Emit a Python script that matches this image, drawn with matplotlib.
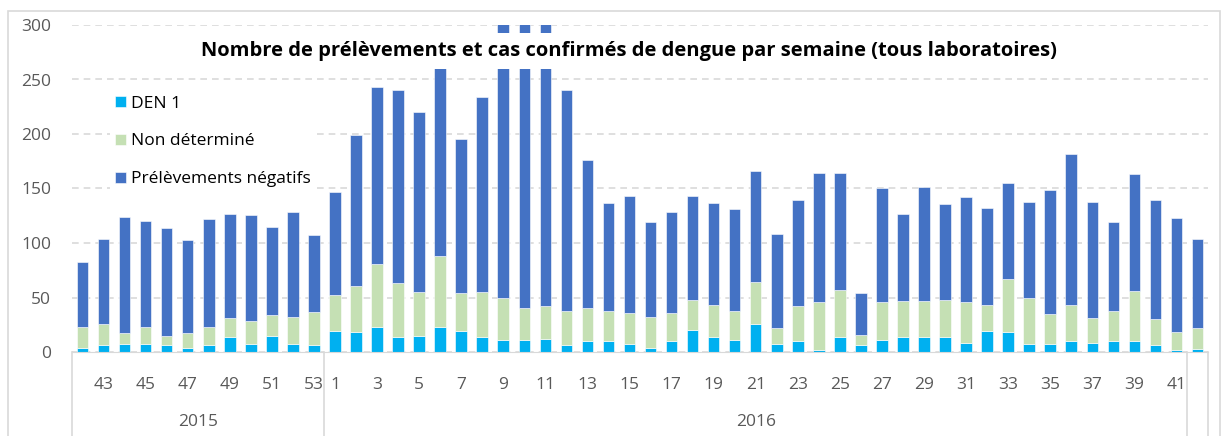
import matplotlib
matplotlib.use("Agg")
import matplotlib.pyplot as plt
import matplotlib.transforms as mtransforms
from matplotlib.patches import Rectangle
import numpy as np

plt.rcParams['font.family'] = ['Open Sans', 'DejaVu Sans']

# weeks and years (2015 w42-53, 2016 w1-42)
weeks = list(range(42, 54)) + list(range(1, 43))
years = ["2015", "2016"]
year_sizes = [12, 41]  # last bar (w42 2016) sits in its own unlabeled group

den1 = [4, 6, 7, 7, 6, 4, 6, 14, 7, 15, 7, 6,
        19, 18, 23, 14, 15, 23, 19, 14, 11, 11, 12, 6, 10, 10, 7, 4, 10, 20,
        14, 11, 26, 7, 10, 2, 14, 6, 11, 14, 14, 14, 8, 19, 18, 7, 7, 10, 8,
        10, 10, 6, 2, 3]
non_det = [19, 20, 10, 16, 9, 13, 17, 17, 21, 19, 25, 31,
           33, 43, 58, 49, 40, 65, 35, 41, 39, 29, 30, 32, 30, 28, 29, 28, 26, 28,
           29, 27, 38, 15, 32, 44, 43, 10, 35, 33, 33, 34, 38, 24, 49, 43, 28, 33,
           23, 28, 46, 24, 16, 19]
negatifs = [60, 78, 107, 97, 99, 86, 99, 96, 98, 81, 96, 70,
            95, 138, 162, 177, 165, 187, 141, 179, 270, 300, 273, 202, 136, 99, 107,
            87, 92, 95, 94, 93, 102, 86, 97, 118, 107, 38, 104, 80, 104, 88, 96, 89,
            88, 88, 114, 139, 107, 81, 107, 109, 105, 82]

labels = ["DEN 1", "Non déterminé", "Prélèvements négatifs"]
colors = ["#00B0F0", "#C5E0B4", "#4472C4"]

W, H = 1226, 436
fig = plt.figure(figsize=(W / 100, H / 100), dpi=100)
fig.patches.append(Rectangle((8 / W, -0.05), (1220 - 8) / W, (436 - 11) / H + 0.05,
                             transform=fig.transFigure, fill=False,
                             edgecolor="#d9d9d9", lw=1.2))

ax = fig.add_axes([72 / W, (H - 352) / H, (1208 - 72) / W, (352 - 25) / H])
x = np.arange(len(weeks))
bottom = np.zeros(len(weeks))
for vals, lab, c in zip([den1, non_det, negatifs], labels, colors):
    ax.bar(x, vals, 0.55, bottom=bottom, color=c, label=lab,
           edgecolor="white", linewidth=0.4, zorder=2)
    bottom += np.array(vals)

ax.set_xlim(-0.5, len(weeks) - 0.5)
ax.set_ylim(0, 300)
ax.set_yticks(range(0, 301, 50))
ax.grid(axis="y", color="#d9d9d9", linestyle=(0, (4, 3)), linewidth=1.2, zorder=0)
for s in ["top", "right", "left"]:
    ax.spines[s].set_visible(False)
ax.spines["bottom"].set_color("#d9d9d9")
ax.tick_params(axis="y", length=0, pad=15, labelsize=12.5, labelcolor="#595959")

tick_pos = [i for i, w in enumerate(weeks) if w % 2 == 1 and i < len(weeks) - 1]
ax.set_xticks(tick_pos)
ax.set_xticklabels([str(weeks[i]) for i in tick_pos])
ax.tick_params(axis="x", length=0, pad=18, labelsize=12.5, labelcolor="#595959")

# category group separators and year labels
trans = mtransforms.blended_transform_factory(ax.transData, ax.transAxes)
bottom_ax = -(436 - 352) / (352 - 25)
edges = [-0.5]
for n in year_sizes:
    edges.append(edges[-1] + n)
edges.append(len(weeks) - 0.5)
for e in edges:
    ax.plot([e, e], [0, bottom_ax], transform=trans, color="#d9d9d9",
            lw=1.2, clip_on=False)
for i, yr in enumerate(years):
    ax.text((edges[i] + edges[i + 1]) / 2, -(422 - 352) / (352 - 25), yr,
            transform=trans, ha="center", va="center", fontsize=12.5,
            color="#595959")

ax.text(0.490, (352 - 51) / (352 - 25),
        "Nombre de prélèvements et cas confirmés de dengue par semaine (tous laboratoires)",
        transform=ax.transAxes, ha="center", va="center", fontsize=14.5,
        fontweight="bold", zorder=5,
        bbox=dict(facecolor="white", edgecolor="none", pad=6))

leg = ax.legend(loc="upper left", bbox_to_anchor=(0.026, 0.826), frameon=True,
                fontsize=12.5, labelspacing=1.25, handlelength=0.6,
                handleheight=0.6, handletextpad=0.3, borderpad=0.3)
leg.get_frame().set_facecolor("white")
leg.get_frame().set_edgecolor("none")
leg.get_frame().set_alpha(1)
leg.set_zorder(5)

fig.savefig("out.png", dpi=100)
